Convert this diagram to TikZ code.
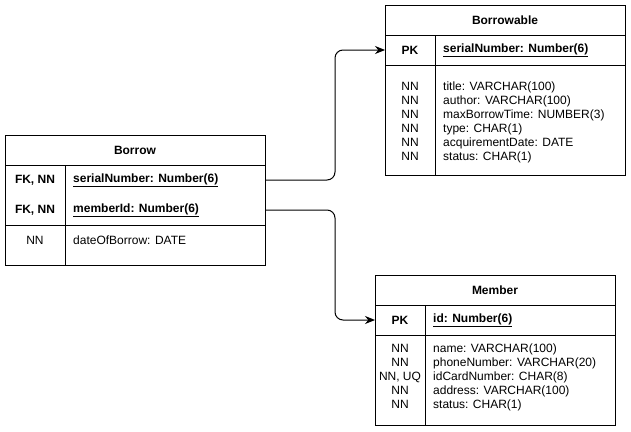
\documentclass[tikz,border=0pt]{standalone}
\usepackage{fontspec}
\setmainfont{Liberation Sans}
\usetikzlibrary{arrows.meta}
\begin{document}
\begin{tikzpicture}[x=1pt,y=-1pt,
  tbl/.style={draw,line width=0.8pt,inner sep=0pt,anchor=north west},
  cell/.style={inner sep=0pt,font=\fontsize{12}{14}\selectfont},
  txt/.style={cell,anchor=west,align=left},
  key/.style={cell,anchor=center,align=center},
  ttl/.style={cell,font=\fontsize{12}{14}\selectfont\bfseries},
  rule/.style={line width=0.8pt},
  conn/.style={line width=1pt,rounded corners=8pt,-{Stealth[length=10pt,width=8pt]}}]
\useasboundingbox (0,0) rectangle (631,431);
% ---------- Borrow ----------
\node[tbl,minimum width=260pt,minimum height=130pt] (borrow) at (5,135) {};
\draw[rule] (5,165) -- (265,165);
\draw[rule] (5,225) -- (265,225);
\draw[rule] (65,165) -- (65,265);
\node[ttl] (bt) at (135,150) {Borrow};
\node[key,font=\fontsize{12}{14}\selectfont\bfseries] (bk1) at (35,180) {FK, NN};
\node[txt,font=\fontsize{12}{14}\selectfont\bfseries] (bsn) at (73,180) {\underline{serialNumber: Number(6)}};
\node[key,font=\fontsize{12}{14}\selectfont\bfseries] (bk2) at (35,210) {FK, NN};
\node[txt,font=\fontsize{12}{14}\selectfont\bfseries] (bmi) at (73,210) {\underline{memberId: Number(6)}};
\node[key] (bk3) at (35,240) {NN};
\node[txt] (bdate) at (73,240) {dateOfBorrow: DATE};
% ---------- Borrowable ----------
\node[tbl,minimum width=240pt,minimum height=170pt] (bw) at (385,5) {};
\draw[rule] (385,35) -- (625,35);
\draw[rule] (385,65) -- (625,65);
\draw[rule] (435,35) -- (435,175);
\node[ttl] (bwt) at (505,20) {Borrowable};
\node[key,font=\fontsize{12}{14}\selectfont\bfseries] (bwk) at (410,50) {PK};
\node[txt,font=\fontsize{12}{14}\selectfont\bfseries] (bwpk) at (443,50) {\underline{serialNumber: Number(6)}};
\node[key,anchor=north] (bwnn) at (410,82) {NN\\NN\\NN\\NN\\NN\\NN};
\node[txt,anchor=north west] (bwf) at (443,82) {title: VARCHAR(100)\\author: VARCHAR(100)\\maxBorrowTime: NUMBER(3)\\type: CHAR(1)\\acquirementDate: DATE\\status: CHAR(1)};
% ---------- Member ----------
\node[tbl,minimum width=240pt,minimum height=150pt] (mem) at (375,275) {};
\draw[rule] (375,305) -- (615,305);
\draw[rule] (375,335) -- (615,335);
\draw[rule] (425,305) -- (425,425);
\node[ttl] (mt) at (495,290) {Member};
\node[key,font=\fontsize{12}{14}\selectfont\bfseries] (mk) at (400,320) {PK};
\node[txt,font=\fontsize{12}{14}\selectfont\bfseries] (mpk) at (433,320) {\underline{id: Number(6)}};
\node[key,anchor=north] (mnn) at (400,344) {NN\\NN\\NN, UQ\\NN\\NN};
\node[txt,anchor=north west] (mf) at (433,344) {name: VARCHAR(100)\\phoneNumber: VARCHAR(20)\\idCardNumber: CHAR(8)\\address: VARCHAR(100)\\status: CHAR(1)};
% ---------- connectors ----------
\draw[conn] (borrow.east |- bsn.center) -| (335,50) -- (bw.west |- bwpk.center);
\draw[conn] (borrow.east |- bmi.center) -| (335,320) -- (mem.west |- mpk.center);
\end{tikzpicture}
\end{document}
